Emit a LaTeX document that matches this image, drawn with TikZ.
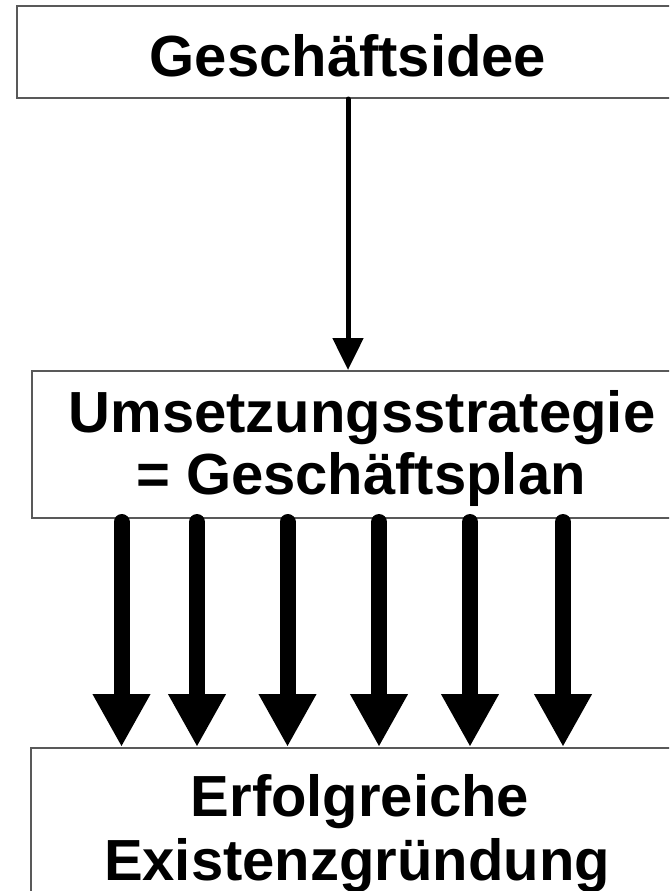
\documentclass[tikz,border=0pt]{standalone}
\usepackage{fontspec}
\setmainfont{Liberation Sans}
\usetikzlibrary{arrows.meta}
\definecolor{boxgray}{HTML}{595959}
\tikzset{
  box/.style={draw=boxgray, line width=2pt, inner sep=0pt, fill=white},
  lbl/.style={anchor=base, inner sep=0pt, font=\fontsize{58}{62}\selectfont\bfseries},
  thinarrow/.style={line width=5pt, line cap=round, -{Triangle[width=30pt,length=32pt]}},
  bigarrow/.style={line width=16pt, line cap=round, -{Triangle[width=54pt,length=53pt]}}
}
\begin{document}
\begin{tikzpicture}[x=1pt,y=-1pt]
\useasboundingbox (0,0) rectangle (669,891);
\clip (0,0) rectangle (669,891);
\node[box, minimum width=662pt, minimum height=92pt] (top) at (348,52) {};
\node[box, minimum width=660pt, minimum height=147pt] (mid) at (362,444.5) {};
\node[box, minimum width=659pt, minimum height=300pt] (bot) at (360.5,898) {};
\node[lbl] (t1) at (348,77) {Geschäftsidee};
\node[lbl] (m1) at (362,432) {Umsetzungsstrategie};
\node[lbl] (m2) at (361,494) {= Geschäftsplan};
\node[lbl] (b1) at (360,816) {Erfolgreiche};
\node[lbl] (b2) at (357,880) {Existenzgründung};
\draw[thinarrow] (top.south) -- (mid.north -| top.south);
\foreach \x [count=\i] in {121.5,197,287.5,379,470,563} {
  \coordinate (c\i) at (\x,0);
  \draw[bigarrow] ([yshift=-3pt]mid.south -| c\i) -- (bot.north -| c\i);
}
\end{tikzpicture}
\end{document}
